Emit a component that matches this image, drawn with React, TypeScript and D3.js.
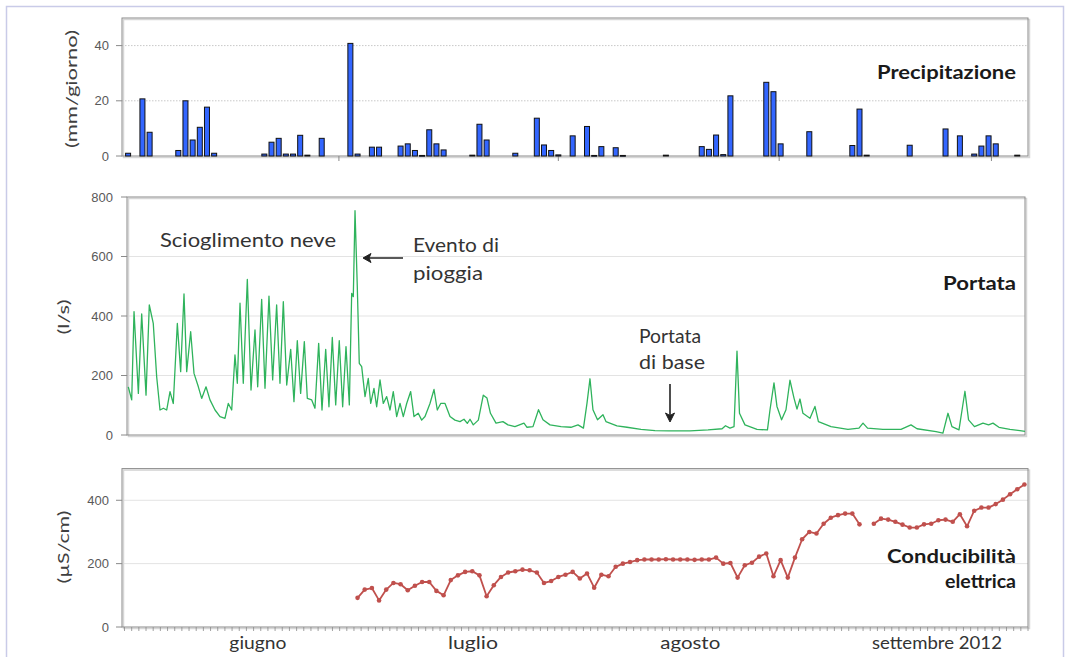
import React from "react";
import * as d3 from "d3";

// ---------- DATA ----------
// Daily precipitation (mm/giorno): day index and value
const precipDays = [0, 2, 3, 7, 8, 9, 10, 11, 12, 19, 20, 21, 22, 23, 24, 25, 27, 31, 32, 34, 35, 38, 39, 40, 41, 42, 43, 44, 48, 49, 50, 54, 57, 58, 59, 60, 62, 64, 65, 66, 68, 69, 75, 80, 81, 82, 83, 84, 89, 90, 91, 95, 101, 102, 103, 109, 114, 116, 118, 119, 120, 121, 124];
const precipValues = [1, 20.7, 8.6, 2, 20, 5.8, 10.4, 17.7, 1, 0.7, 5, 6.4, 0.7, 0.7, 7.5, 0.3, 6.4, 40.8, 0.7, 3.2, 3.2, 3.6, 4.4, 2, 0.2, 9.5, 4.4, 2.2, 0.3, 11.5, 5.8, 1, 13.7, 4, 2, 0.4, 7.3, 10.7, 0.2, 3.4, 3, 0.2, 0.3, 3.4, 2.4, 7.6, 0.5, 21.8, 26.7, 23.3, 4.4, 8.8, 3.8, 17, 0.3, 3.9, 9.8, 7.3, 0.7, 3.6, 7.3, 4.4, 0.3];

// Discharge (l/s): time in days and value
const qDays = [-0.82, -0.34, -0.01, 0.6, 1.07, 1.68, 2.14, 2.7, 3.18, 3.65, 4.12, 4.59, 5.06, 5.52, 6.09, 6.56, 7.03, 7.41, 7.97, 8.44, 9.05, 9.52, 10.13, 10.69, 11.4, 12.1, 12.8, 13.27, 13.75, 14.21, 14.54, 14.92, 15.38, 15.95, 16.47, 17.03, 17.41, 17.97, 18.44, 19.0, 19.52, 20.08, 20.55, 21.02, 21.5, 22.06, 22.52, 22.99, 23.46, 23.98, 24.4, 25.02, 25.48, 26.0, 26.47, 26.99, 27.45, 27.92, 28.4, 28.9, 29.38, 29.85, 30.32, 30.65, 30.88, 31.12, 31.44, 31.72, 32.06, 32.53, 32.99, 33.33, 33.79, 34.17, 34.64, 35.1, 35.58, 36.05, 36.51, 36.99, 37.46, 37.92, 38.4, 38.96, 39.43, 40.03, 40.51, 40.98, 41.68, 42.25, 42.71, 43.19, 43.8, 44.5, 45.2, 45.91, 46.47, 46.94, 47.32, 47.78, 48.49, 49.19, 49.71, 50.2, 50.98, 51.96, 52.67, 53.65, 54.92, 55.35, 56.19, 56.97, 57.6, 58.59, 60.14, 61.54, 62.53, 63.3, 63.8, 64.22, 64.64, 65.28, 66.05, 66.47, 68.02, 69.43, 71.4, 73.38, 75.35, 78.31, 80.85, 82.83, 83.31, 83.94, 84.51, 84.93, 85.28, 86.05, 87.75, 89.22, 89.58, 90.14, 90.56, 91.21, 91.83, 92.39, 92.96, 93.38, 93.8, 94.22, 95.21, 95.91, 96.4, 98.17, 100.56, 102.11, 102.68, 103.32, 105.49, 108.03, 109.44, 110.29, 112.97, 113.94, 114.65, 115.21, 116.2, 117.04, 117.55, 118.38, 119.58, 120.37, 120.99, 121.83, 123.38, 124.79, 125.5];
const qValues = [162, 118, 415, 140, 407, 134, 437, 375, 196, 84, 90, 84, 146, 106, 375, 213, 474, 213, 347, 207, 162, 123, 162, 118, 84, 62, 56, 106, 84, 269, 174, 443, 174, 523, 151, 353, 162, 456, 157, 467, 185, 437, 174, 448, 168, 288, 112, 317, 140, 314, 123, 118, 90, 308, 84, 288, 95, 328, 101, 317, 95, 297, 101, 476, 465, 754, 499, 241, 230, 129, 190, 106, 157, 95, 185, 106, 129, 84, 146, 62, 106, 62, 106, 146, 62, 73, 50, 62, 106, 153, 84, 106, 106, 62, 50, 45, 53, 39, 53, 34, 50, 134, 124, 73, 40, 45, 34, 28, 40, 26, 28, 85, 51, 34, 28, 26, 34, 23, 107, 189, 85, 51, 68, 45, 31, 26, 19, 15, 14, 14, 17, 21, 31, 23, 28, 282, 73, 34, 19, 17, 85, 175, 96, 51, 85, 184, 124, 87, 121, 73, 56, 96, 45, 28, 19, 23, 40, 23, 19, 19, 34, 21, 11, 6, 73, 28, 17, 147, 51, 28, 40, 34, 40, 26, 19, 15, 12];

// Electrical conductivity (µS/cm): daily values from day 32
const condStartDay = 32;
const condValues: (number | null)[] = [92, 118, 123, 84, 118, 139, 135, 116, 130, 142, 142, 114, 100, 148, 163, 174, 176, 163, 97, 132, 158, 172, 176, 181, 179, 172, 139, 145, 158, 165, 174, 153, 169, 124, 165, 160, 190, 200, 205, 211, 213, 213, 213, 214, 213, 213, 213, 212, 213, 213, 219, 200, 202, 156, 195, 203, 222, 232, 160, 211, 156, 219, 277, 300, 295, 326, 345, 353, 358, 358, 324, null, 326, 342, 339, 332, 323, 314, 314, 324, 326, 337, 339, 332, 356, 318, 367, 377, 377, 388, 402, 419, 435, 450];

// Axis tick labels
const precipTicks = [0, 20, 40];
const qTicks = [0, 200, 400, 600, 800];
const condTicks = [0, 200, 400];
const topAxisTickDays = [29.4, 60, 90.8, 120.4];
const monthLabels = ["giugno", "luglio", "agosto", "settembre 2012"];
const monthLabelDays = [18.1, 48.1, 78.4, 112.8];

// ---------- CHART ----------
const FONT_TXT = "Lato, 'Open Sans', sans-serif";
const FONT_NUM = "'Liberation Sans', Arial, sans-serif";

export default function App() {
  const xTop = d3.scaleLinear().domain([-0.85, 125.5]).range([122, 1028]);
  const xMid = d3.scaleLinear().domain([-1, 125.5]).range([127, 1025]);
  const yTop = d3.scaleLinear().domain([0, 50]).range([156, 18]);
  const yMid = d3.scaleLinear().domain([0, 800]).range([435, 197]);
  const yBot = d3.scaleLinear().domain([0, 500]).range([627, 468.6]);

  const qData = qDays.map((d, i) => [d, qValues[i]] as [number, number]);
  const qPath = d3.line<[number, number]>().x(d => xMid(d[0])).y(d => yMid(d[1]))(qData) || "";

  const condData = condValues.map((v, i) => ({ d: condStartDay + i, v }));
  const condPath = d3.line<{ d: number; v: number | null }>()
    .defined(p => p.v != null)
    .x(p => xTop(p.d))
    .y(p => yBot(p.v as number))(condData) || "";

  const barW = 5;
  const dailyTicks = d3.range(-0.5, 125.6, 1);

  const frame = (x0: number, x1: number, y0: number, y1: number) => (
    <g>
      <rect x={x0 + 1.5} y={y0 + 1.5} width={x1 - x0} height={y1 - y0} fill="none" stroke="#d6d6d6" strokeWidth={1.5} />
      <rect x={x0} y={y0} width={x1 - x0} height={y1 - y0} fill="none" stroke="#8a8a8a" strokeWidth={1} />
    </g>
  );

  const yLabel = (text: string, cx: number, cy: number, len: number) => (
    <text transform={`translate(${cx},${cy}) rotate(-90)`} textAnchor="middle" dominantBaseline="central"
      fontFamily={FONT_TXT} fontSize={16} fill="#404040" textLength={len} lengthAdjust="spacingAndGlyphs">{text}</text>
  );

  const label = (text: string, x: number, y: number, len: number, size: number, bold = false, anchor: "start" | "end" | "middle" = "start") => (
    <text x={x} y={y} textAnchor={anchor} fontFamily={FONT_TXT} fontSize={size} fontWeight={bold ? 700 : 400}
      fill={bold ? "#1a1a1a" : "#333"} textLength={len} lengthAdjust="spacingAndGlyphs">{text}</text>
  );

  return (
    <svg width={1073} height={657} style={{ position: "absolute", left: 0, top: 0, background: "#fff" }}>
      <rect x={0} y={0} width={1073} height={657} fill="#fff" />
      <rect x={6.5} y={6.5} width={1057} height={670} fill="none" stroke="#c9cbe8" strokeWidth={1.5} />

      {/* ===== TOP: Precipitazione ===== */}
      <g>
        {precipTicks.filter(t => t > 0).map(t => (
          <line key={t} x1={122} x2={1028} y1={yTop(t)} y2={yTop(t)} stroke="#c8c8c8" strokeDasharray="1.5,1.5" />
        ))}
        {frame(122, 1028, 18, 156)}
        {precipTicks.map(t => (
          <g key={t}>
            <line x1={116} x2={122} y1={yTop(t)} y2={yTop(t)} stroke="#8a8a8a" />
            <text x={109} y={yTop(t)} textAnchor="end" dominantBaseline="central" fontFamily={FONT_NUM} fontSize={13} fill="#595959">{t}</text>
          </g>
        ))}
        {topAxisTickDays.map((d, i) => (
          <line key={i} x1={xTop(d)} x2={xTop(d)} y1={156} y2={161} stroke="#8a8a8a" />
        ))}
        {precipDays.map((d, i) => (
          <rect key={i} x={xTop(d) - barW / 2} y={yTop(precipValues[i])} width={barW}
            height={Math.max(0.8, yTop(0) - yTop(precipValues[i]))} fill="#3366ff" stroke="#111" strokeWidth={1} />
        ))}
        {yLabel("(mm/giorno)", 70, 89, 118)}
        {label("Precipitazione", 1016, 79, 139, 19, true, "end")}
      </g>

      {/* ===== MIDDLE: Portata ===== */}
      <g>
        {qTicks.filter(t => t > 0 && t < 800).map(t => (
          <line key={t} x1={127} x2={1025} y1={yMid(t)} y2={yMid(t)} stroke="#e3e3e3" strokeWidth={1} />
        ))}
        {frame(127, 1025, 197, 435)}
        {qTicks.map(t => (
          <g key={t}>
            <line x1={121} x2={127} y1={yMid(t)} y2={yMid(t)} stroke="#8a8a8a" />
            <text x={113} y={yMid(t)} textAnchor="end" dominantBaseline="central" fontFamily={FONT_NUM} fontSize={13} fill="#595959">{t}</text>
          </g>
        ))}
        <path d={qPath} fill="none" stroke="#2fb35c" strokeWidth={1.3} strokeLinejoin="round" />
        {yLabel("(l/s)", 62, 317, 35)}
        {label("Portata", 1016, 290, 73, 19, true, "end")}
        {label("Scioglimento neve", 160, 247, 176, 19)}
        {label("Evento di", 413, 252, 86, 19)}
        {label("pioggia", 413, 280, 70, 19)}
        <line x1={403} x2={364} y1={258} y2={258} stroke="#222" strokeWidth={1.6} />
        <path d="M363,258 L371,253.5 L369,258 L371,262.5 Z" fill="#222" stroke="#222" strokeWidth={1} />
        {label("Portata", 639, 343, 62, 19)}
        {label("di base", 639, 369, 66, 19)}
        <line x1={670} x2={670} y1={384} y2={420} stroke="#222" strokeWidth={1.6} />
        <path d="M670,422 L665.5,413 L670,415.5 L674.5,413 Z" fill="#222" stroke="#222" strokeWidth={1} />
      </g>

      {/* ===== BOTTOM: Conducibilità ===== */}
      <g>
        {condTicks.filter(t => t > 0).map(t => (
          <line key={t} x1={122} x2={1028} y1={yBot(t)} y2={yBot(t)} stroke="#e3e3e3" strokeWidth={1} />
        ))}
        {frame(122, 1028, 468.6, 627)}
        {condTicks.map(t => (
          <g key={t}>
            <line x1={116} x2={122} y1={yBot(t)} y2={yBot(t)} stroke="#8a8a8a" />
            <text x={109} y={yBot(t)} textAnchor="end" dominantBaseline="central" fontFamily={FONT_NUM} fontSize={13} fill="#595959">{t}</text>
          </g>
        ))}
        {dailyTicks.map((d, i) => (
          <line key={i} x1={xTop(d)} x2={xTop(d)} y1={627} y2={631} stroke="#8a8a8a" strokeWidth={0.8} />
        ))}
        <path d={condPath} fill="none" stroke="#c0504d" strokeWidth={1.8} strokeLinejoin="round" />
        {condData.filter(p => p.v != null).map(p => (
          <circle key={p.d} cx={xTop(p.d)} cy={yBot(p.v as number)} r={2.3} fill="#c0504d" />
        ))}
        {yLabel("(µS/cm)", 62, 547, 73)}
        {label("Conducibilità", 1016, 563, 129, 19, true, "end")}
        {label("elettrica", 1016, 588, 71, 19, true, "end")}
        {monthLabels.map((m, i) => (
          <text key={m} x={xTop(monthLabelDays[i])} y={649} textAnchor="middle" fontFamily={FONT_TXT}
            fontSize={17} fill="#333" textLength={[57, 50, 60, 130][i]} lengthAdjust="spacingAndGlyphs">{m}</text>
        ))}
      </g>
    </svg>
  );
}
